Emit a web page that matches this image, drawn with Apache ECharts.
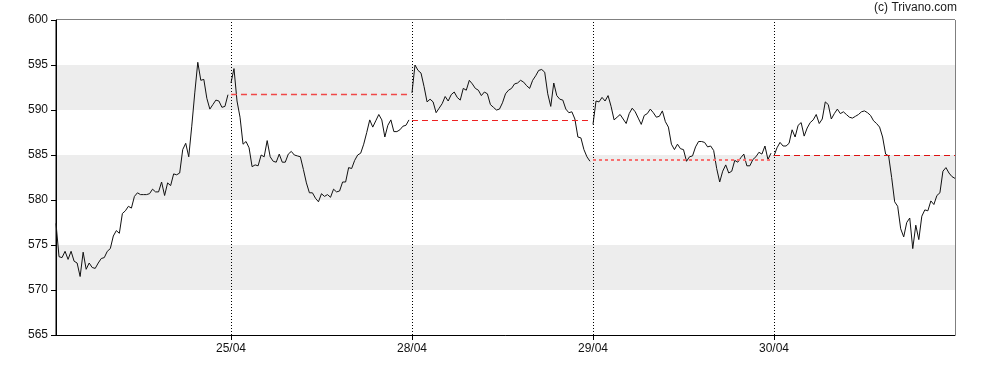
<!DOCTYPE html>
<html>
<head>
<meta charset="utf-8">
<script src="https://cdn.jsdelivr.net/npm/echarts@6/dist/echarts.min.js"></script>
<style>
html,body{margin:0;padding:0;background:#fff;}
#chart{width:988px;height:370px;}
</style>
</head>
<body>
<div id="chart"></div>
<script>
// Day labels at the session boundaries
const dayLabels = ['25/04', '28/04', '29/04', '30/04'];

// Intraday values per session (first session is partial)
const day1 = [577.4,573.7,573.6,574.3,573.4,574.3,573.2,573.0,571.5,574.2,572.3,573.0,572.5,572.4,573.0,573.5,573.6,574.3,574.6,576.0,576.6,576.3,578.5,578.8,579.3,579.1,580.4,580.8,580.6,580.6,580.6,580.7,581.2,580.9,580.9,582.0,580.5,581.9,581.6,582.9,582.8,583.0,585.6,586.3,584.8,588.2,591.9,595.3,593.3,593.4,591.3,590.1,590.6,591.1,591.0,590.3,590.4,591.7];
const day2 = [593.0,594.6,591.0,589.2,586.2,586.5,585.8,583.7,583.9,583.8,585.0,584.8,586.6,584.8,584.3,584.2,585.1,584.2,584.2,585.1,585.4,585.0,584.9,584.8,583.4,581.9,580.8,580.8,580.2,579.8,580.7,580.4,580.6,580.3,581.2,580.9,581.0,582.0,582.0,583.6,583.5,584.4,585.0,585.2,586.2,587.5,588.9,588.1,588.8,589.5,588.9,587.0,588.3,588.9,587.6,587.6,587.8,588.2,588.3,588.9];
const day3 = [591.9,595.0,594.4,594.1,592.6,590.9,591.2,590.9,589.7,590.2,590.7,591.5,591.0,591.7,592.0,591.4,591.1,592.4,592.2,593.3,592.9,592.4,592.2,591.6,592.0,591.8,590.6,590.3,590.0,590.1,590.8,591.8,592.2,592.4,592.9,593.0,593.3,593.1,592.7,592.4,593.3,593.8,594.4,594.5,594.2,591.8,590.4,593.0,591.6,591.2,591.1,590.1,589.7,589.8,589.0,587.0,586.9,585.6,584.8,584.3];
const day4 = [588.4,591.0,590.9,591.4,591.0,591.6,590.4,588.9,589.2,589.5,589.0,588.5,589.6,590.2,589.8,589.1,588.4,589.4,589.6,590.1,589.7,589.2,589.3,589.9,588.7,588.1,586.2,585.6,586.2,585.7,585.6,584.3,584.8,584.9,585.9,586.5,586.5,586.4,585.9,586.0,585.5,583.5,582.0,583.2,583.9,583.0,583.2,584.4,584.2,584.7,585.1,583.8,583.8,584.5,584.8,585.3,585.1,586.0,584.5,585.2];
const day5 = [584.9,585.8,586.4,586.0,586.0,586.3,587.8,587.0,588.3,588.6,587.1,588.0,588.6,588.9,589.5,588.5,589.0,590.9,590.6,589.0,589.6,590.1,589.6,589.8,589.5,589.2,589.1,589.3,589.5,589.8,589.9,589.7,589.4,588.8,588.5,588.1,587.0,585.1,584.9,582.5,579.8,579.3,576.8,575.9,577.5,578.0,574.6,577.2,575.6,578.2,578.9,578.8,579.9,579.5,580.5,580.8,583.2,583.6,583.0,582.6,582.4];

// Previous-close reference levels for sessions 2..5
const refLevels = [591.72, 588.9, 584.44, 585.0];

// Y axis ticks
const yTicks = [565, 570, 575, 580, 585, 590, 595, 600];

const SLOTS_PER_DAY = 60;
const days = [day1, day2, day3, day4, day5];
const starts = [0];
for (let k = 1; k < days.length; k++) starts.push(day1.length + SLOTS_PER_DAY * (k - 1));
const boundaries = starts.slice(1);
const xMax = day1.length + SLOTS_PER_DAY * (days.length - 1);

const lineData = [];
days.forEach((d, k) => {
  if (k > 0) lineData.push([starts[k] - 0.5, '-']);
  d.forEach((v, i) => lineData.push([starts[k] + i, v]));
});

const refStyles = [
  { color: '#f04848', width: 1.3, type: [6, 4], opacity: 1 },
  { color: '#ee2222', width: 1, type: [6, 4], opacity: 1 },
  { color: '#f77070', width: 2, type: [3, 3], opacity: 1 },
  { color: '#dd1111', width: 1, type: [6, 4], opacity: 1 }
];

const vSeries = {
  type: 'line', data: [], silent: true,
  markLine: {
    silent: true, symbol: ['none', 'none'], label: { show: false },
    emphasis: { disabled: true },
    lineStyle: { color: '#000', type: [1, 2], width: 1 },
    data: boundaries.map(b => ({ xAxis: b }))
  }
};

const refSeries = refLevels.map((lv, k) => {
  const s = starts[k + 1];
  const e = (k + 1 === days.length - 1) ? xMax : s + SLOTS_PER_DAY - 1;
  return {
    type: 'line', data: [], silent: true,
    markLine: {
      silent: true, symbol: ['none', 'none'], label: { show: false },
      emphasis: { disabled: true },
      lineStyle: refStyles[k],
      data: [[{ coord: [s, lv] }, { coord: [e, lv] }]]
    }
  };
});

const chart = echarts.init(document.getElementById('chart'), null, { renderer: 'canvas' });
chart.setOption({
  animation: false,
  backgroundColor: '#fff',
  textStyle: { fontFamily: 'Liberation Sans, Arial, sans-serif' },
  title: {
    text: '(c) Trivano.com',
    right: 31,
    top: 2,
    padding: 0,
    textStyle: { fontSize: 12, fontWeight: 'normal', color: '#1a1a1a', fontFamily: 'Liberation Sans, Arial, sans-serif' }
  },
  grid: {
    left: 56, right: 33, top: 20, bottom: 35,
    show: true, borderColor: '#000', borderWidth: 1, backgroundColor: 'transparent'
  },
  xAxis: {
    type: 'value',
    min: 0,
    max: xMax,
    axisLine: { show: true, lineStyle: { color: '#000', width: 1 } },
    axisTick: { show: true, length: 5, lineStyle: { color: '#000' }, customValues: boundaries },
    axisLabel: {
      show: true, margin: 8, fontSize: 12, color: '#111',
      customValues: boundaries,
      formatter: v => dayLabels[boundaries.indexOf(v)] || ''
    },
    splitLine: { show: false }
  },
  yAxis: {
    type: 'value',
    min: yTicks[0],
    max: yTicks[yTicks.length - 1],
    interval: 5,
    axisLine: { show: true, lineStyle: { color: '#000', width: 1 } },
    axisTick: { show: true, length: 5, lineStyle: { color: '#000' } },
    axisLabel: { fontSize: 12, color: '#111', margin: 8 },
    splitLine: { show: false },
    splitArea: { show: true, areaStyle: { color: ['#ffffff', '#ededed'] } }
  },
  series: [vSeries].concat(refSeries).concat([{
    type: 'line',
    data: lineData,
    showSymbol: false,
    connectNulls: false,
    lineStyle: { color: '#111', width: 1 }
  }])
});
</script>
</body>
</html>
